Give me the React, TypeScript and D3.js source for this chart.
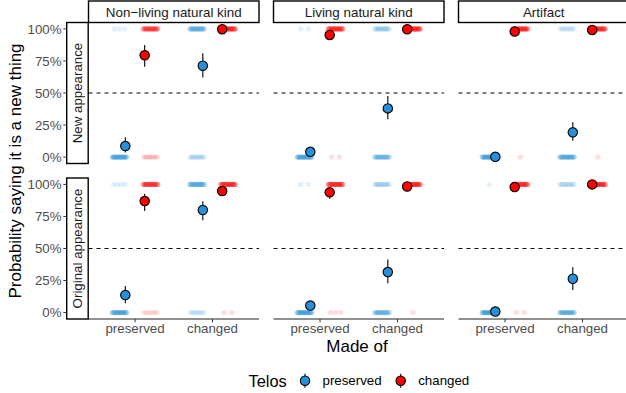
import React from 'react';
import * as d3 from 'd3';

const facetCols = ['Non\u2212living natural kind', 'Living natural kind', 'Artifact'];
const facetRows = ['New appearance', 'Original appearance'];
const madeOf = ['preserved', 'changed'];
const telos = ['preserved', 'changed'];
const yTicks = [0, 0.25, 0.5, 0.75, 1];

// model estimates, indexed [facet column][made of][telos]
const estNew = [
  [[0.086, 0.794], [0.713, 0.998]],
  [[0.041, 0.953], [0.38, 0.997]],
  [[0.002, 0.98], [0.193, 0.992]],
];
const lowNew = [
  [[0.035, 0.705], [0.62, 0.99]],
  [[0.01, 0.92], [0.295, 0.985]],
  [[0.0, 0.96], [0.127, 0.98]],
];
const highNew = [
  [[0.154, 0.875], [0.81, 1.0]],
  [[0.075, 0.98], [0.477, 1.0]],
  [[0.01, 0.99], [0.271, 1.0]],
];
const estOrig = [
  [[0.137, 0.87], [0.8, 0.948]],
  [[0.055, 0.938], [0.316, 0.984]],
  [[0.008, 0.979], [0.264, 1.0]],
];
const lowOrig = [
  [[0.073, 0.793], [0.72, 0.915]],
  [[0.02, 0.889], [0.228, 0.96]],
  [[0.001, 0.955], [0.176, 0.99]],
];
const highOrig = [
  [[0.207, 0.928], [0.868, 0.975]],
  [[0.09, 0.97], [0.415, 0.995]],
  [[0.03, 0.99], [0.353, 1.0]],
];

// raw answers: how many said "new thing" out of respondents, [col][made of][telos]
const respondents = 40;
const yesNew = [
  [[3, 32], [29, 40]],
  [[2, 38], [15, 40]],
  [[0, 39], [8, 39]],
];
const yesOrig = [
  [[4, 35], [32, 38]],
  [[2, 37], [13, 39]],
  [[1, 38], [11, 40]],
];

const est = [estNew, estOrig];
const low = [lowNew, lowOrig];
const high = [highNew, highOrig];
const yes = [yesNew, yesOrig];

const W = 626;
const H = 393;
const panelW = 170.5;
const panelH = 141;
const gap = 14.5;
const font = 'Liberation Sans, Arial, Helvetica, sans-serif';
const colour = d3.scaleOrdinal<string, string>().domain(telos).range(['#2790dc', '#ff0000']);

const px = d3
  .scaleBand()
  .domain(facetCols)
  .range([88.5, 88.5 + 3 * panelW + 2 * gap])
  .paddingInner(gap / (panelW + gap));
const py = d3
  .scaleBand()
  .domain(facetRows)
  .range([22.5, 22.5 + 2 * panelH + gap])
  .paddingInner(gap / (panelH + gap));

const x = d3.scalePoint().domain(madeOf).range([0, panelW]).padding(0.6);
const y = d3.scaleLinear().domain([-0.05, 1.05]).range([panelH, 0]);
const pct = d3.format('.0%');

const summaryDodge = d3.scalePoint().domain(telos).range([-0.125, 0.125]);
const rawDodge = d3.scalePoint().domain(telos).range([-0.2, 0.2]);
const jitterW = 0.1;

function RawDots({ n, value, cx, fill }) {
  if (n <= 0) return null;
  const j = d3
    .scalePoint()
    .domain(d3.range(n).map(String))
    .range([-jitterW * x.step(), jitterW * x.step()])
    .padding(0.5);
  return (
    <g>
      {d3.range(n).map((i) => (
        <circle key={i} cx={cx + j(String(i))} cy={y(value)} r={2.7} fill={fill} fillOpacity={0.13} />
      ))}
    </g>
  );
}

function Panel({ ri, ci }) {
  return (
    <g transform={`translate(${px(facetCols[ci])},${py(facetRows[ri])})`}>
      <line x1={0} x2={panelW} y1={y(0.5)} y2={y(0.5)} stroke="#000" strokeWidth={1} strokeDasharray="4,4" />
      {madeOf.map((m, mi) =>
        telos.map((t, ti) => {
          const cx = x(m) + rawDodge(t) * x.step();
          const k = yes[ri][ci][mi][ti];
          return (
            <g key={`raw-${m}-${t}`}>
              <RawDots n={k} value={1} cx={cx} fill={colour(t)} />
              <RawDots n={respondents - k} value={0} cx={cx} fill={colour(t)} />
            </g>
          );
        })
      )}
      {madeOf.map((m, mi) =>
        telos.map((t, ti) => {
          const cx = x(m) + summaryDodge(t) * x.step();
          return (
            <g key={`sum-${m}-${t}`}>
              <line
                x1={cx}
                x2={cx}
                y1={y(low[ri][ci][mi][ti])}
                y2={y(high[ri][ci][mi][ti])}
                stroke="#000"
                strokeWidth={1.1}
              />
              <circle cx={cx} cy={y(est[ri][ci][mi][ti])} r={4.7} fill={colour(t)} stroke="#000" strokeWidth={1.1} />
            </g>
          );
        })
      )}
      {ri === facetRows.length - 1 && (
        <g>
          <line x1={0} x2={panelW} y1={panelH} y2={panelH} stroke="#222" strokeWidth={1.1} />
          {madeOf.map((m) => (
            <g key={m} transform={`translate(${x(m)},${panelH})`}>
              <line y1={0} y2={3.3} stroke="#333" strokeWidth={1} />
              <text y={13.8} textAnchor="middle" fontSize={13.3} fill="#4d4d4d">
                {m}
              </text>
            </g>
          ))}
        </g>
      )}
    </g>
  );
}

export default function App() {
  const legendY = 380.7;
  return (
    <svg
      width={W}
      height={H}
      style={{ position: 'absolute', left: 0, top: 0, background: '#fff', fontFamily: font }}
    >
      <rect width={W} height={H} fill="#fff" />
      {facetRows.map((r, ri) => facetCols.map((c, ci) => <Panel key={`${r}-${c}`} ri={ri} ci={ci} />))}

      {/* column strips */}
      {facetCols.map((c) => (
        <g key={c} transform={`translate(${px(c)},1)`}>
          <rect x={0} y={0} width={panelW} height={21.5} fill="#fff" stroke="#000" strokeWidth={1.4} />
          <text x={panelW / 2} y={15.8} textAnchor="middle" fontSize={13.4} fill="#1a1a1a">
            {c}
          </text>
        </g>
      ))}

      {/* row strips and y axes */}
      {facetRows.map((r) => (
        <g key={r} transform={`translate(0,${py(r)})`}>
          <rect x={66.7} y={0} width={21.5} height={panelH} fill="#fff" stroke="#000" strokeWidth={1.4} />
          <text
            transform={`translate(82.2,${panelH / 2}) rotate(-90)`}
            textAnchor="middle"
            fontSize={13.3}
            fill="#1a1a1a"
          >
            {r}
          </text>
          {yTicks.map((v) => (
            <g key={v} transform={`translate(0,${y(v)})`}>
              <line x1={63.3} x2={66.7} stroke="#333" strokeWidth={1} />
              <text x={61.5} dy="0.35em" textAnchor="end" fontSize={13.3} fill="#4d4d4d">
                {pct(v)}
              </text>
            </g>
          ))}
        </g>
      ))}

      {/* axis titles */}
      <text transform="translate(21,171) rotate(-90)" textAnchor="middle" fontSize={17} fill="#000">
        Probability saying it is a new thing
      </text>
      <text x={357} y={352} textAnchor="middle" fontSize={17} fill="#000">
        Made of
      </text>

      {/* legend */}
      <text x={248.5} y={386.5} fontSize={16.4} fill="#000">
        Telos
      </text>
      {telos.map((t, i) => {
        const lx = [305, 400.7][i];
        return (
          <g key={t} transform={`translate(${lx},${legendY})`}>
            <line y1={-7} y2={7} stroke="#000" strokeWidth={1.1} />
            <circle r={4.7} fill={colour(t)} stroke="#000" strokeWidth={1.1} />
            <text x={17.5} y={4.6} fontSize={13.3} fill="#000">
              {t}
            </text>
          </g>
        );
      })}
    </svg>
  );
}
